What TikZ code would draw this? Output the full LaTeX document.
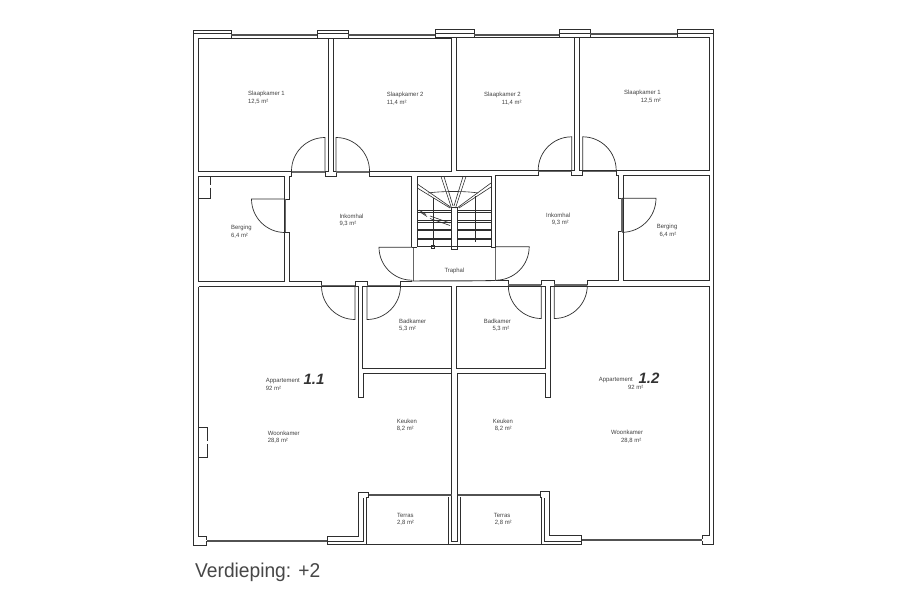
\documentclass[tikz,border=0pt]{standalone}
\usepackage{fontspec}
\setmainfont{Liberation Sans}
\newfontfamily\planfont[FakeStretch=0.97]{Liberation Sans}
\newfontfamily\titlefont[FakeStretch=0.96]{Liberation Sans}
\definecolor{ink}{HTML}{2E2E2E}
\definecolor{txt}{HTML}{404040}
\tikzset{
  wall/.style={draw=ink,line width=0.95pt,line join=miter},
  doorleaf/.style={draw=ink,line width=0.7pt},
  frame/.style={draw=black!60,line width=1.6pt},
  glazing/.style={draw=black!68,line width=2pt},
  fine/.style={draw=ink,line width=0.6pt},
  lab/.style={anchor=west,inner sep=0pt,text=txt,font=\planfont\fontsize{6.1}{6.5}\selectfont},
  hand/.style={anchor=center,inner sep=0pt,text=black!80,font=\fontsize{15}{15}\selectfont\bfseries\itshape},
  title/.style={anchor=west,inner sep=0pt,text=black!72,font=\titlefont\fontsize{20}{22}\selectfont}
}
\newcommand{\swing}[5]{\draw[doorleaf] (#1,#2) -- ++(#3:#5) arc (#3:#4:#5);}
\begin{document}
\begin{tikzpicture}[x=1pt,y=-1pt]
\useasboundingbox (0,0) rectangle (900,600);
\fill[white] (0,0) rectangle (900,600);

% outer lines and corner piers
\draw[wall] (193.5,30) -- (193.5,545) -- (206.7,545) -- (206.7,541);
\draw[wall] (231,33) -- (231,30) -- (193.5,30);
\draw[wall] (193.5,33.3) -- (231,33.3) -- (231,38);
\draw[wall] (677,33) -- (677,29.5) -- (713.7,29.5) -- (713.7,544) -- (702,544) -- (702,541);
\draw[wall] (677,33) -- (713.7,33);
\draw[wall] (677,33) -- (677,37.5);

% mid piers
\draw[wall] (317,30) rectangle (348,38);
\draw[wall] (317,33.3) -- (348,33.3);
\draw[wall] (435,29.8) rectangle (474,37.8);
\draw[wall] (435,33.2) -- (474,33.2);
\draw[wall] (559,29.5) rectangle (590,37.5);
\draw[wall] (559,33) -- (590,33);

% top glazing
\draw[glazing] (231,35) -- (317,35);
\draw[glazing] (348,35) -- (435,35);
\draw[glazing] (474,34.5) -- (559,34.5);
\draw[glazing] (590,34.3) -- (677,34.3);

% bedrooms
\draw[wall] (198.7,38) rectangle (328,171);
\draw[wall] (333,38) rectangle (451.6,171);
\draw[wall] (456.5,37.8) rectangle (574,170.3);
\draw[wall] (579,37.5) rectangle (709,170);

% storage rooms
\draw[wall] (198.7,176.3) rectangle (284.7,281.7);
\draw[wall] (623.7,175.3) rectangle (709,280.5);
\draw[fine] (210.3,176.3) -- (210.3,185) (210.3,187.5) -- (210.3,198.3) -- (198.7,198.3);

% left hall
\draw[wall] (289.7,199) -- (289.7,176) -- (291.7,176) -- (291.7,172) -- (325,172) -- (325,176.2) -- (336,176.2) -- (336,172) -- (369,172) -- (369,176) -- (411.7,176) -- (411.7,247)
  (411.7,281.3) -- (400,281.3) -- (400,285) -- (367,285) -- (367,281.3) -- (355,281.3) -- (355,285) -- (321,285) -- (321,281.3) -- (289.7,281.3) -- (289.7,232) -- (285.5,232) -- (285.5,199) -- (289.7,199);
% right hall
\draw[wall] (495.7,247) -- (495.7,175.2) -- (538.3,175.2) -- (538.3,171.5) -- (571.7,171.5) -- (571.7,175.5) -- (582.7,175.5) -- (582.7,171.5) -- (616,171.5) -- (616,175.2) -- (618.3,175.2) -- (618.3,198.3) -- (622,198.3) -- (622,231.7) -- (618.3,231.7) -- (618.3,280.7) -- (587,280.7) -- (587,284.5) -- (554.3,284.5) -- (554.3,280.7) -- (541.3,280.7) -- (541.3,284.5) -- (508.3,284.5) -- (508.3,280.7) -- (491,280.7);

% door frames
\draw[frame] (291.7,172) -- (325,172);
\draw[frame] (336,172) -- (369,172);
\draw[frame] (538.3,171.6) -- (571.7,171.6);
\draw[frame] (582.7,171.6) -- (616,171.6);
\draw[frame] (285.5,199) -- (285.5,232);
\draw[frame] (622,198.3) -- (622,231.7);
\draw[frame] (321,285.3) -- (355,285.3);
\draw[frame] (367,285.3) -- (400,285.3);
\draw[frame] (508.3,284.8) -- (541.3,284.8);
\draw[frame] (554.3,284.8) -- (587,284.8);
\draw[frame] (413.5,247) -- (413.5,280.5);
\draw[frame] (495.3,247) -- (495.3,280.5);

% door swings
\swing{325}{171}{270}{180}{33.5}
\swing{336}{171}{270}{360}{33.5}
\swing{571.7}{170.3}{270}{180}{33.5}
\swing{582.7}{170.3}{270}{360}{33.5}
\swing{285}{199}{180}{90}{33.5}
\swing{622}{198.3}{0}{90}{34}
\swing{412}{247.2}{180}{90}{33}
\swing{495.7}{246.7}{0}{90}{33.5}
\swing{355}{286}{90}{180}{33.5}
\swing{367}{286}{90}{0}{33.5}
\swing{541.3}{285.5}{90}{180}{33}
\swing{554.3}{285.5}{90}{0}{33}

% stair box and traphal
\draw[wall] (417.3,176.5) rectangle (491,246.7);
\draw[wall] (411.7,247) -- (417.3,247) (491,247) -- (495.7,247);
\draw[wall] (411.7,281) -- (491,280.7);
\draw[wall] (451.7,207.3) rectangle (457.7,249);
\foreach \yy in {210.7,220.7,229.3,238.3}{
  \draw[fine] (417.3,\yy) -- (451.7,\yy) (457.7,\yy) -- (491,\yy);
  \draw[fine] (417.3,\yy+1.4) -- (451.7,\yy+1.4) (457.7,\yy+1.4) -- (491,\yy+1.4);
}
\draw[fine] (441,176.5) -- (451.5,208) (444,176.5) -- (453,206);
\draw[fine] (466,176.5) -- (455.5,208) (463,176.5) -- (454,206);
\draw[fine] (417.3,184) -- (452,208) (417.3,188) -- (450,208);
\draw[fine] (491,183) -- (457,208) (491,187) -- (459,208);
\draw[fine] (428,193) .. controls (442,191) and (466,191) .. (478,193);
\draw[fine] (433,198) -- (433,246.7);
\draw[fine] (475,196) -- (475,242);
\draw[fine] (419,210) -- (426,214.5) (420,212) -- (427,216.5);
\draw[fine] (430,216) -- (450,223) (430,218.5) -- (450,225.5);
\draw[fine] (431.5,245) rectangle (434.5,248);

% left living room and kitchen
\draw[wall] (198.7,286.7) -- (358,286.7) -- (358,397.7) -- (363,397.7) -- (363,373.3) -- (451.7,373.3);
\draw[wall] (198.7,286.7) -- (198.7,536.7) -- (206.7,536.7) -- (206.7,540) (327,540) -- (327,536.7) -- (358.5,536.7) -- (358.5,492.3) -- (368.5,492.3) -- (368.5,497) -- (366.7,497) -- (366.7,544);
\draw[wall] (363.5,498) -- (363.5,541) -- (327,541);
\draw[wall] (327,536.7) -- (327,544) -- (582,544);
\draw[wall] (448.3,497) -- (448.3,544);
\draw[wall] (199,427.3) -- (207,427.3) -- (207,440.5) (207,444) -- (207,457.3) -- (199,457.3);
% left bath
\draw[wall] (362.7,286.7) rectangle (451.7,368.3);
% central wall
\draw[wall] (451.7,368.3) -- (451.7,541.7) -- (457.3,541.7) -- (457.3,373.3);
\draw[wall] (456.7,286.2) rectangle (545.7,368.2);
% right kitchen / living room
\draw[wall] (457.3,373.3) -- (545.7,373.3) -- (545.7,397.3) -- (550.7,397.3) -- (550.7,286.2) -- (709,286.2) -- (709,535.7) -- (702,535.7) -- (702,539);
\draw[wall] (460,497) -- (460,544);
\draw[wall] (540,497) -- (541.7,497) -- (541.7,544);
\draw[wall] (540,497) -- (540,491.7) -- (549.7,491.7) -- (549.7,535.7) -- (581,535.7) -- (581,544);
\draw[wall] (544.3,498) -- (544.3,541) -- (581,541);

% bottom and terrace glazing
\draw[glazing] (206.7,540.7) -- (327,540.7);
\draw[glazing] (581.5,539.7) -- (702,539.7);
\draw[glazing] (368.5,495.3) -- (451.5,495.3);
\draw[glazing] (457.5,495.3) -- (540,495.3);

% labels
\node[lab] (s1a) at (248,94.3) {Slaapkamer 1};
\node[lab] (s1b) at (248,101.7) {12,5 m²};
\node[lab] (s2a) at (386.7,95.3) {Slaapkamer 2};
\node[lab] (s2b) at (386.7,103) {11,4 m²};
\node[lab] (s3a) at (484,94.7) {Slaapkamer 2};
\node[lab] (s3b) at (501.7,102.7) {11,4 m²};
\node[lab] (s4a) at (624,93.3) {Slaapkamer 1};
\node[lab] (s4b) at (640.7,100.3) {12,5 m²};
\node[lab] (b1a) at (231,227.7) {Berging};
\node[lab] (b1b) at (231,235.3) {6,4 m²};
\node[lab] (h1a) at (339.3,216.3) {Inkomhal};
\node[lab] (h1b) at (339.3,223.7) {9,3 m²};
\node[lab] (h2a) at (546,215.7) {Inkomhal};
\node[lab] (h2b) at (551.7,223) {9,3 m²};
\node[lab] (b2a) at (656.7,226.7) {Berging};
\node[lab] (b2b) at (659.3,234.3) {6,4 m²};
\node[lab] (tr) at (444.3,271.3) {Traphal};
\node[lab] (k1a) at (399,321.3) {Badkamer};
\node[lab] (k1b) at (399,329) {5,3 m²};
\node[lab] (k2a) at (483.7,321) {Badkamer};
\node[lab] (k2b) at (492.3,328.7) {5,3 m²};
\node[lab] (a1a) at (265.7,380.7) {Appartement};
\node[lab] (a1b) at (265.7,388) {92 m²};
\node[lab] (a2a) at (598.7,379.7) {Appartement};
\node[lab] (a2b) at (628,387.3) {92 m²};
\node[hand] (n1) at (314,379) {1.1};
\node[hand] (n2) at (649,378) {1.2};
\node[lab] (w1a) at (267.7,433.7) {Woonkamer};
\node[lab] (w1b) at (267.7,441) {28,8 m²};
\node[lab] (w2a) at (611,432.7) {Woonkamer};
\node[lab] (w2b) at (621,440.3) {28,8 m²};
\node[lab] (c1a) at (396.7,421.7) {Keuken};
\node[lab] (c1b) at (396.7,429) {8,2 m²};
\node[lab] (c2a) at (492.7,421.3) {Keuken};
\node[lab] (c2b) at (494.7,428.7) {8,2 m²};
\node[lab] (t1a) at (397,515.7) {Terras};
\node[lab] (t1b) at (397,522.7) {2,8 m²};
\node[lab] (t2a) at (493.7,515.3) {Terras};
\node[lab] (t2b) at (494.7,522.7) {2,8 m²};
\node[title] (ttl) at (195,572) {Verdieping: +2};
\end{tikzpicture}
\end{document}
